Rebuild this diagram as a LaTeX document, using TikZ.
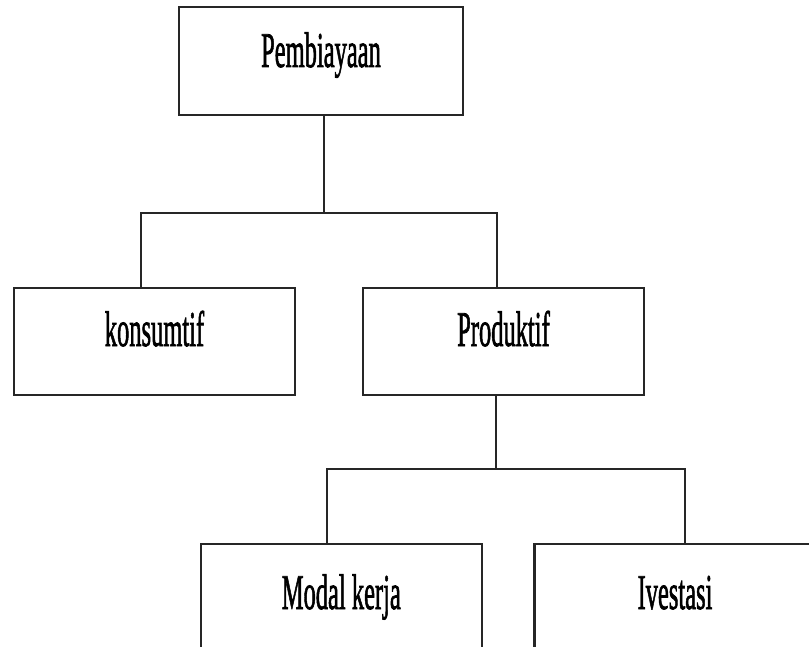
\documentclass[tikz,border=0pt]{standalone}
\usepackage{graphicx}
\usepackage{fontspec}
\setmainfont{Liberation Serif}
\newfontfamily\heavyserif[FakeBold=1.8]{Liberation Serif}
\newcommand{\sqz}[1]{\scalebox{0.49}[1]{#1}}
\begin{document}
\begin{tikzpicture}[x=1pt,y=-1pt,
  box/.style={draw=black!85, line width=2.5pt, rectangle, inner sep=0pt,
    minimum width=281pt, minimum height=107pt,
    font=\heavyserif\fontsize{50}{60}\selectfont},
  conn/.style={draw=black!85, line width=2.2pt}]
\useasboundingbox (0,0) rectangle (809,647);
\clip (0,0) rectangle (809,647);
\node[box, minimum width=284pt, minimum height=108pt, text height=60pt, text depth=48pt] (pemb) at (321,61) {\sqz{Pembiayaan}};
\node[box, text height=58pt, text depth=49pt] (kons) at (154.5,341.5) {\sqz{konsumtif}};
\node[box, text height=58pt, text depth=49pt] (prod) at (503.5,341.5) {\sqz{Produktif}};
\node[box, text height=65pt, text depth=42pt] (modal) at (341.3,597.5) {\sqz{Modal kerja}};
\node[box, text height=65pt, text depth=42pt] (ives) at (675,597.5) {\sqz{Ivestasi}};
\coordinate (j1) at (324,213);
\coordinate (j2) at (496,469);
\draw[conn] ([xshift=3pt]pemb.south) -- (j1);
\draw[conn] ([xshift=-13.5pt]kons.north) |- (j1) -| ([xshift=-6.5pt]prod.north);
\draw[conn] ([xshift=-7.5pt]prod.south) -- (j2);
\draw[conn] ([xshift=-14pt]modal.north) |- (j2) -| ([xshift=10pt]ives.north);
\end{tikzpicture}
\end{document}
